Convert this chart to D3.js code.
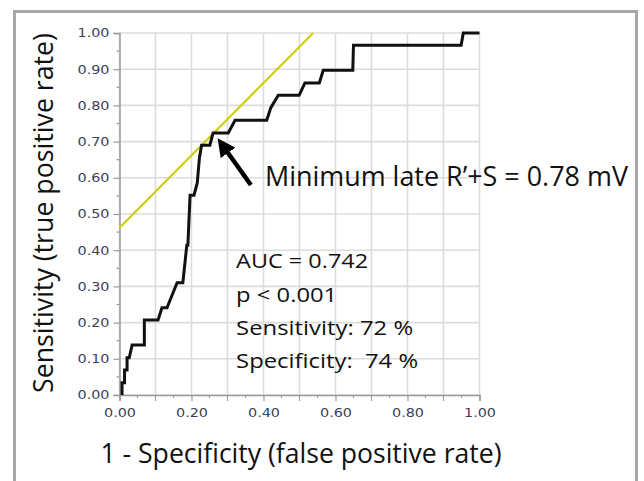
<!DOCTYPE html>
<html>
<head>
<meta charset="utf-8">
<script src="https://cdn.jsdelivr.net/npm/d3@7"></script>
<style>
  html, body { margin: 0; padding: 0; background: #fff; }
  svg { display: block; }
  text { white-space: pre; }
</style>
</head>
<body>
<div id="chart"></div>
<script>
// ROC curve vertices (1 - specificity, sensitivity)
var fpr = [0.007, 0.007, 0.014, 0.014, 0.021, 0.021, 0.027, 0.035, 0.069, 0.069,
           0.107, 0.118, 0.132, 0.160, 0.176, 0.187, 0.190, 0.196, 0.207, 0.216,
           0.222, 0.228, 0.251, 0.260, 0.302, 0.321, 0.409, 0.420, 0.441, 0.499,
           0.515, 0.555, 0.566, 0.648, 0.650, 0.949, 0.955, 1.000];
var tpr = [0.000, 0.034, 0.034, 0.069, 0.069, 0.103, 0.103, 0.138, 0.138, 0.207,
           0.207, 0.241, 0.241, 0.310, 0.310, 0.414, 0.414, 0.552, 0.552, 0.586,
           0.655, 0.690, 0.690, 0.724, 0.724, 0.759, 0.759, 0.793, 0.828, 0.828,
           0.862, 0.862, 0.897, 0.897, 0.966, 0.966, 1.000, 1.000];

// tangent line (yellow) touching the optimal cut-off
var tangentX = [0, 0.538];
var tangentY = [0.462, 1.0];

var ticks = [0, 0.1, 0.2, 0.3, 0.4, 0.5, 0.6, 0.7, 0.8, 0.9, 1.0];
var xLabelTicks = [0, 0.2, 0.4, 0.6, 0.8, 1.0];
var minorTicks = [0.05, 0.15, 0.25, 0.35, 0.45, 0.55, 0.65, 0.75, 0.85, 0.95];

var xTitle = "1 - Specificity (false positive rate)";
var yTitle = "Sensitivity (true positive rate)";
var cutLabel = "Minimum late R\u2019+S = 0.78 mV";
var statLines = ["AUC = 0.742", "p < 0.001", "Sensitivity: 72 %", "Specificity:  74 %"];

var W = 644, H = 481;
var svg = d3.select("#chart").append("svg").attr("width", W).attr("height", H);

var x = d3.scaleLinear().domain([0, 1]).range([119.5, 479.5]);
var y = d3.scaleLinear().domain([0, 1]).range([395, 33]);

// outer frame
svg.append("rect")
  .attr("x", 14.5).attr("y", 11.5)
  .attr("width", 622).attr("height", 480)
  .attr("fill", "none").attr("stroke", "#a8a8a8").attr("stroke-width", 3);

// grid
var grid = svg.append("g");
grid.selectAll(".gx").data(ticks).enter().append("line")
  .attr("x1", function(d){ return x(d); }).attr("x2", function(d){ return x(d); })
  .attr("y1", y(0)).attr("y2", y(1))
  .attr("stroke", "#dcdcdc").attr("stroke-width", 1.6);
grid.selectAll(".gy").data(ticks).enter().append("line")
  .attr("y1", function(d){ return y(d); }).attr("y2", function(d){ return y(d); })
  .attr("x1", x(0)).attr("x2", x(1))
  .attr("stroke", "#dcdcdc").attr("stroke-width", 1.6);

// axes
var fmt = d3.format(".2f");
var xAxis = svg.append("g").attr("transform", "translate(0," + y(0) + ")")
  .call(d3.axisBottom(x).tickValues(xLabelTicks).tickFormat(fmt).tickSize(6).tickPadding(7));
var yAxis = svg.append("g").attr("transform", "translate(" + x(0) + ",0)")
  .call(d3.axisLeft(y).tickValues(ticks).tickFormat(fmt).tickSize(6).tickPadding(4));

[xAxis, yAxis].forEach(function(a) {
  a.select(".domain").attr("stroke", "#9a9a9a").attr("stroke-width", 1.5);
  a.selectAll(".tick line").attr("stroke", "#9a9a9a").attr("stroke-width", 1.2);
  a.selectAll(".tick text")
    .attr("fill", "#3d3f58")
    .style("font-family", "DejaVu Sans")
    .style("font-size", "12px")
    .attr("textLength", 32).attr("lengthAdjust", "spacingAndGlyphs");
});

// remaining tick marks on x (0.1 steps without label) and minor ticks
svg.append("g").selectAll("line").data(ticks.filter(function(t, i){ return i % 2 === 1; })).enter().append("line")
  .attr("x1", function(d){ return x(d); }).attr("x2", function(d){ return x(d); })
  .attr("y1", y(0)).attr("y2", y(0) + 6)
  .attr("stroke", "#9a9a9a").attr("stroke-width", 1.2);
svg.append("g").selectAll("line").data(minorTicks).enter().append("line")
  .attr("x1", function(d){ return x(d); }).attr("x2", function(d){ return x(d); })
  .attr("y1", y(0)).attr("y2", y(0) + 3)
  .attr("stroke", "#9a9a9a").attr("stroke-width", 1.2);
svg.append("g").selectAll("line").data(minorTicks).enter().append("line")
  .attr("y1", function(d){ return y(d); }).attr("y2", function(d){ return y(d); })
  .attr("x1", x(0)).attr("x2", x(0) - 3)
  .attr("stroke", "#9a9a9a").attr("stroke-width", 1.2);

// tangent line
svg.append("path")
  .datum(d3.zip(tangentX, tangentY))
  .attr("d", d3.line().x(function(d){ return x(d[0]); }).y(function(d){ return y(d[1]); }))
  .attr("fill", "none").attr("stroke", "#d2cc0a").attr("stroke-width", 2.2);

// ROC curve
svg.append("path")
  .datum(d3.zip(fpr, tpr))
  .attr("d", d3.line().x(function(d){ return x(d[0]); }).y(function(d){ return y(d[1]); }))
  .attr("fill", "none").attr("stroke", "#111").attr("stroke-width", 3)
  .attr("stroke-linejoin", "miter");

// arrow to the cut-off
var arrowFrom = [0.365, 0.58], arrowTo = [0.279, 0.699];
svg.append("defs").append("marker")
  .attr("id", "head").attr("viewBox", "0 0 10 10")
  .attr("refX", 2).attr("refY", 5)
  .attr("markerWidth", 4).attr("markerHeight", 4)
  .attr("orient", "auto")
  .append("path").attr("d", "M0,0 L10,5 L0,10 Z").attr("fill", "#000");
svg.append("line")
  .attr("x1", x(arrowFrom[0])).attr("y1", y(arrowFrom[1]))
  .attr("x2", x(arrowTo[0]) + 6).attr("y2", y(arrowTo[1]) + 8)
  .attr("stroke", "#000").attr("stroke-width", 4.5)
  .attr("marker-end", "url(#head)");

// texts
svg.append("text")
  .attr("x", x(0.404)).attr("y", y(0.577))
  .style("font-family", "Open Sans").style("font-size", "27px").attr("fill", "#111")
  .attr("textLength", 363).attr("lengthAdjust", "spacingAndGlyphs")
  .text(cutLabel);

var statY = [0.351, 0.257, 0.166, 0.075];
var statLen = [132, 101, 177, 182];
svg.append("g").selectAll("text").data(statLines).enter().append("text")
  .attr("x", x(0.324))
  .attr("y", function(d, i){ return y(statY[i]); })
  .attr("textLength", function(d, i){ return statLen[i]; })
  .attr("lengthAdjust", "spacingAndGlyphs")
  .style("font-family", "Open Sans").style("font-size", "20px").attr("fill", "#111")
  .text(function(d){ return d; });

svg.append("text")
  .attr("x", 301).attr("y", 463)
  .attr("text-anchor", "middle")
  .attr("textLength", 401).attr("lengthAdjust", "spacingAndGlyphs")
  .style("font-family", "Open Sans").style("font-size", "27px").attr("fill", "#111")
  .text(xTitle);

svg.append("text")
  .attr("transform", "translate(53,213) rotate(-90)")
  .attr("text-anchor", "middle")
  .attr("textLength", 360).attr("lengthAdjust", "spacingAndGlyphs")
  .style("font-family", "Open Sans").style("font-size", "27px").attr("fill", "#111")
  .text(yTitle);
</script>
</body>
</html>
